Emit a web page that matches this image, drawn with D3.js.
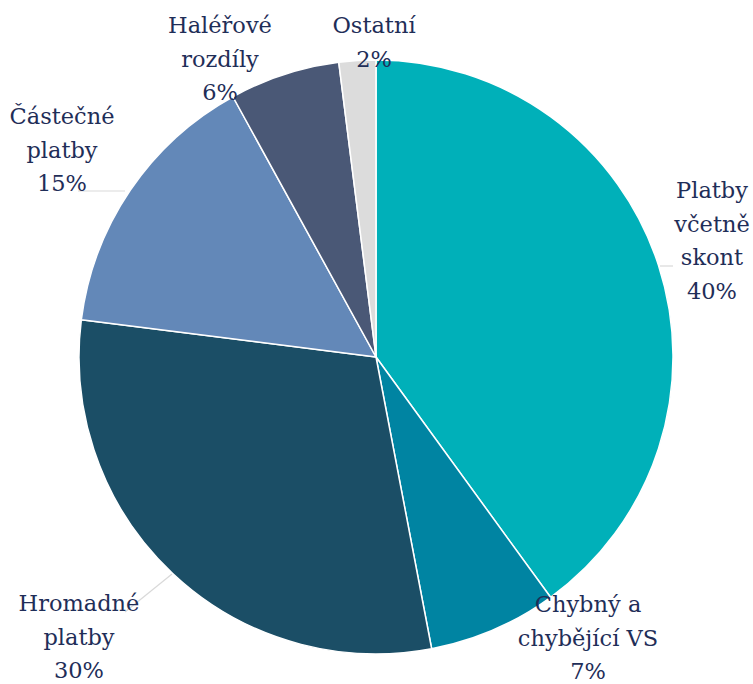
<!DOCTYPE html>
<html><head><meta charset="utf-8">
<script src="https://cdn.jsdelivr.net/npm/d3@7"></script>
<style>html,body{margin:0;padding:0;background:#fff;}svg{display:block;}
.lbl{font-family:'DejaVu Serif';font-size:22.5px;fill:#1F2E58;}</style>
</head><body>
<svg id="chart" width="753" height="684"></svg>
<script>
const categories = ["Platby včetně skont", "Chybný a chybějící VS", "Hromadné platby", "Částečné platby", "Haléřové rozdíly", "Ostatní"];
const values = [40, 7, 30, 15, 6, 2];
const labelLines = [["Platby","včetně","skont","40%"],["Chybný a","chybějící VS","7%"],["Hromadné","platby","30%"],["Částečné","platby","15%"],["Haléřové","rozdíly","6%"],["Ostatní","2%"]];
const colors = ["#00B0B9", "#0084A2", "#1B4E66", "#6388B8", "#4A5876", "#DCDCDC"];

// layout of labels (centre x, first baseline y)
const labelLayout = [[712,198],[588,612],[79,611],[62,124],[220,33],[374,33]];
const leaders = [[[660,266],[673,266]], null, [[172,574],[125,612]], [[125,191],[78,191]], null, null];

const cx = 376, cy = 357, R = 297;
const svg = d3.select("#chart");
const g = svg.append("g").attr("transform", `translate(${cx},${cy})`);
const pie = d3.pie().sort(null).value(d => d);
const arc = d3.arc().innerRadius(0).outerRadius(R);
const color = d3.scaleOrdinal().domain(categories).range(colors);
const arcs = pie(values);
g.selectAll("path").data(arcs).join("path")
  .attr("d", arc)
  .attr("fill", (d,i) => color(categories[i]))
  .attr("stroke", "#fff").attr("stroke-width", 1.5).attr("stroke-linejoin","round");

leaders.forEach(l => { if (!l) return;
  svg.append("path").attr("d", d3.line()(l)).attr("stroke", "#D9D9D9").attr("stroke-width", 1.2).attr("fill","none");
});

labelLines.forEach((lines, i) => {
  const [x, y] = labelLayout[i];
  const t = svg.append("text").attr("class","lbl").attr("x", x).attr("y", y)
    .attr("text-anchor", "middle");
  lines.forEach((s, j) => t.append("tspan").attr("x", x).attr("y", y + j*33.5).text(s));
});
</script>
</body></html>
